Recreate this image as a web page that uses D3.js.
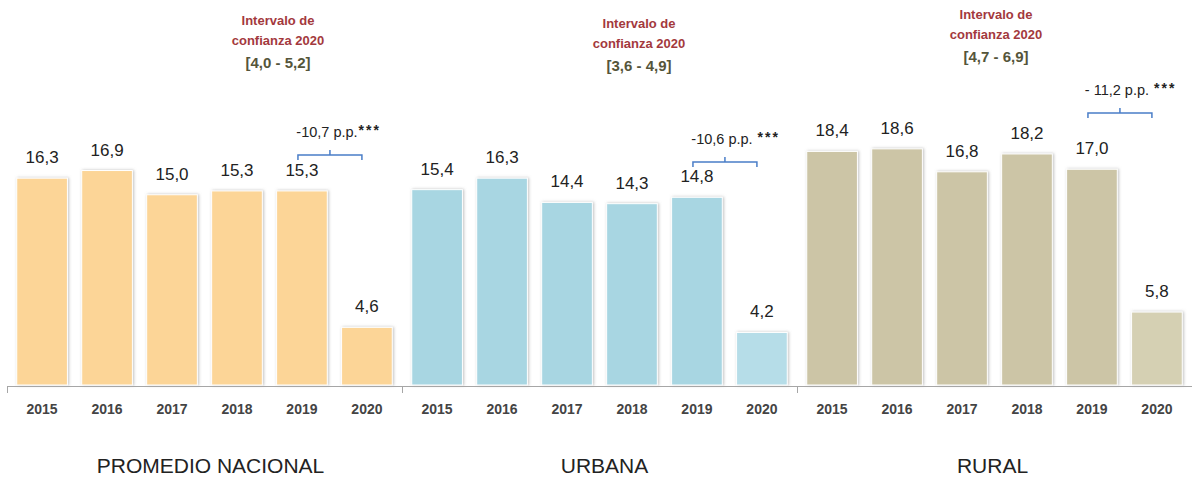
<!DOCTYPE html>
<html>
<head>
<meta charset="utf-8">
<script src="https://cdn.jsdelivr.net/npm/d3@7"></script>
<style>
  html, body { margin: 0; padding: 0; background: #fff; }
  svg { display: block; font-family: "Liberation Sans", Arial, sans-serif; }
</style>
</head>
<body>
<svg id="chart" width="1192" height="477"></svg>
<script>
// ---------------- data ----------------
const groups = ["PROMEDIO NACIONAL", "URBANA", "RURAL"];
const years = ["2015", "2016", "2017", "2018", "2019", "2020"];
const nacional = [16.3, 16.9, 15.0, 15.3, 15.3, 4.6];
const urbana = [15.4, 16.3, 14.4, 14.3, 14.8, 4.2];
const rural = [18.4, 18.6, 16.8, 18.2, 17.0, 5.8];
const seriesValues = [nacional, urbana, rural];
const intervalTitle = ["Intervalo de", "confianza 2020"];
const intervals = ["[4,0 - 5,2]", "[3,6 - 4,9]", "[4,7 - 6,9]"];
const changes = ["-10,7 p.p.", "-10,6 p.p.", "- 11,2 p.p."];
const signif = ["***", "***", "***"];

// ---------------- layout / style ----------------
const colors = ["#FCD597", "#A8D6E2", "#CCC5A6"];
const colors2020 = ["#FCD597", "#B6DDE8", "#D5D0B3"];
const annotX = [278, 639, 996];
const annotY = [25, 28, 19];
const bracketY = [155, 162, 113];
const asteriskGap = [1, 5, 5];

const svg = d3.select("#chart");
const W = 1192, baseY = 386;

const defs = svg.append("defs");
const f = defs.append("filter").attr("id", "shadow")
  .attr("x", "-20%").attr("y", "-10%").attr("width", "140%").attr("height", "120%");
f.append("feDropShadow").attr("dx", 1).attr("dy", 0).attr("stdDeviation", 1.6)
  .attr("flood-color", "#8a8a8a").attr("flood-opacity", 0.55);

const x0 = d3.scaleBand().domain(groups).range([7, 7 + 3 * 395]).padding(0);
const x1 = d3.scaleBand().domain(years).range([0, x0.bandwidth()])
  .paddingInner(0.22).paddingOuter(0.15);
const y = d3.scaleLinear().domain([0, 30]).range([baseY, baseY - 30 * 12.75]);

const fmt = v => d3.format(".1f")(v).replace(".", ",");

groups.forEach((g, gi) => {
  const gx = x0(g);
  const vals = seriesValues[gi];
  const gg = svg.append("g").attr("transform", `translate(${gx},0)`);

  // bars
  gg.selectAll("rect.bar").data(vals).join("rect")
    .attr("class", "bar")
    .attr("x", (d, i) => x1(years[i]))
    .attr("y", d => y(d))
    .attr("width", x1.bandwidth())
    .attr("height", d => y(0) - y(d) - 1)
    .attr("fill", (d, i) => i === years.length - 1 ? colors2020[gi] : colors[gi])
    .attr("stroke", "#fff").attr("stroke-width", 1)
    .attr("filter", "url(#shadow)");

  // value labels
  gg.selectAll("text.val").data(vals).join("text")
    .attr("class", "val")
    .attr("x", (d, i) => x1(years[i]) + x1.bandwidth() / 2)
    .attr("y", d => y(d) - 15)
    .attr("text-anchor", "middle")
    .attr("font-size", 17)
    .attr("fill", "#222")
    .text(d => fmt(d));

  // year axis
  const ax = gg.append("g").attr("transform", `translate(0,${baseY + 18})`)
    .call(d3.axisBottom(x1).tickSize(0).tickPadding(0));
  ax.select(".domain").remove();
  ax.selectAll("text").attr("font-size", 14).attr("font-weight", "bold")
    .attr("fill", "#444").attr("font-family", "Liberation Sans, Arial, sans-serif");

  // group title
  svg.append("text")
    .attr("x", gx + x0.bandwidth() / 2 + (gi === 0 ? 6 : gi === 1 ? 5 : -2))
    .attr("y", 473)
    .attr("text-anchor", "middle")
    .attr("font-size", 21)
    .attr("fill", "#222")
    .text(g);

  // confidence interval annotation
  const a = svg.append("g");
  intervalTitle.forEach((t, li) => {
    a.append("text").attr("x", annotX[gi]).attr("y", annotY[gi] + li * 20)
      .attr("text-anchor", "middle").attr("font-size", 13).attr("font-weight", "bold")
      .attr("fill", "#A3393D").text(t);
  });
  a.append("text").attr("x", annotX[gi]).attr("y", annotY[gi] + 43)
    .attr("text-anchor", "middle").attr("font-size", 15).attr("font-weight", "bold")
    .attr("fill", "#55553A").text(intervals[gi]);

  // bracket between 2019 and 2020
  const xa = gx + x1("2019") + x1.bandwidth() / 2 - 4;
  const xb = gx + x1("2020") + x1.bandwidth() / 2 - 5;
  const xm = (xa + xb) / 2;
  const by = bracketY[gi];
  const p = d3.path();
  p.moveTo(xa, by + 5); p.lineTo(xa, by); p.lineTo(xb, by); p.lineTo(xb, by + 5);
  p.moveTo(xm, by); p.lineTo(xm, by - 5);
  svg.append("path").attr("d", p.toString()).attr("fill", "none")
    .attr("stroke", "#4A7EC8").attr("stroke-width", 1.5);

  const lbl = svg.append("text").attr("x", xm - 3).attr("y", by - 18)
    .attr("text-anchor", "middle").attr("font-size", 14.5).attr("fill", "#222")
    .text(changes[gi]);
  const len = lbl.node().getComputedTextLength();
  svg.append("text").attr("x", xm - 3 + len / 2 + asteriskGap[gi]).attr("y", by - 20)
    .attr("font-size", 14).attr("font-weight", "bold").attr("letter-spacing", 2)
    .attr("fill", "#222").text(signif[gi]);
});

// baseline axis with group separator ticks
svg.append("line").attr("x1", 7).attr("x2", W).attr("y1", baseY + 0.5).attr("y2", baseY + 0.5)
  .attr("stroke", "#A6A6A6").attr("stroke-width", 1);
groups.forEach(g => {
  svg.append("line").attr("x1", x0(g) + 0.5).attr("x2", x0(g) + 0.5)
    .attr("y1", baseY).attr("y2", baseY + 7).attr("stroke", "#A6A6A6");
});
</script>
</body>
</html>
